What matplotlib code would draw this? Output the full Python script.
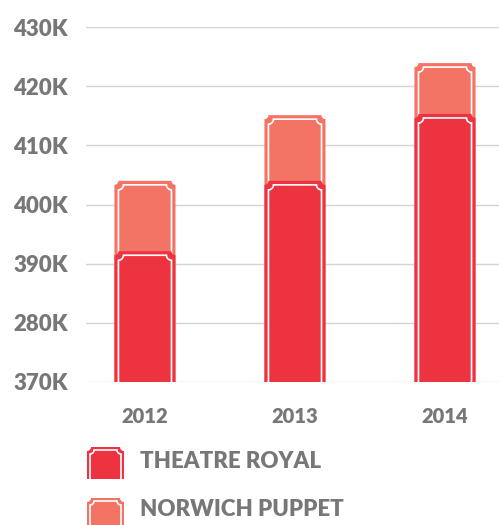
import numpy as np
import matplotlib
matplotlib.use('Agg')
import matplotlib.pyplot as plt
from matplotlib.path import Path
from matplotlib.patches import PathPatch

years = ['2012', '2013', '2014']
theatre_royal = [392.1, 404.0, 415.3]
norwich_puppet = [11.9, 11.1, 8.6]
ytick_vals = [370, 380, 390, 400, 410, 420, 430]
ytick_labels = ['370K', '280K', '390K', '400K', '410K', '420K', '430K']
legend_labels = ['THEATRE ROYAL', 'NORWICH PUPPET']

DARK = '#EE3340'
LIGHT = '#F37365'
GREY = '#777777'
plt.rcParams['font.family'] = ['Lato', 'DejaVu Sans']
W = 'heavy'


def ticket(ax, x0, x1, y0, y1, color, sx, sy, r=4, inset=4, ri=5, z=2):
    # sx, sy: data units per pixel
    t = np.linspace(0, np.pi / 2, 12)
    rx, ry = r * sx, r * sy
    verts = [(x0, y0), (x0, y1 - ry)]
    verts += list(zip(x0 + rx * np.sin(t), y1 - ry * np.cos(t)))
    verts += list(zip(x1 - rx * np.cos(t), y1 - ry * np.sin(t)))
    verts += [(x1, y0), (x0, y0)]
    ax.add_patch(PathPatch(Path(verts, closed=True), fc=color, ec='none', zorder=z))
    # inner white outline
    ix0, ix1, iy1 = x0 + inset * sx, x1 - inset * sx, y1 - inset * sy
    rx, ry = ri * sx, ri * sy
    iv = [(ix0, y0), (ix0, iy1 - ry)]
    iv += list(zip(ix0 + rx * np.sin(t), iy1 - ry * np.cos(t)))
    iv += list(zip(ix1 - rx * np.cos(t), iy1 - ry * np.sin(t)))
    iv += [(ix1, y0)]
    ax.add_patch(PathPatch(Path(iv), fc='none', ec='white', lw=1.2, zorder=z + 0.1))


fig = plt.figure(figsize=(4.99, 5.25), dpi=100)
ax = fig.add_axes([86 / 499, 143 / 525, 413 / 499, 355 / 525])
ax.set_xlim(-0.393, 2.36)
ax.set_ylim(370, 430)
sx = (2.36 + 0.393) / 413
sy = 60 / 355

width = 0.407
x = np.arange(len(years))
totals = np.array(theatre_royal) + np.array(norwich_puppet)
for i in x:
    ticket(ax, i - width / 2, i + width / 2, 370, totals[i], LIGHT, sx, sy, z=2)
    ticket(ax, i - width / 2, i + width / 2, 370, theatre_royal[i], DARK, sx, sy, z=3)

ax.set_yticks(ytick_vals)
ax.set_yticklabels(ytick_labels, fontsize=16, color=GREY, fontweight=W)
ax.set_xticks(x)
ax.set_xticklabels(years, fontsize=14.5, color=GREY, fontweight=W)
ax.tick_params(axis='both', length=0)
ax.tick_params(axis='y', pad=13)
ax.tick_params(axis='x', pad=18)
ax.grid(axis='y', color='#d4d4d4', lw=1)
ax.set_axisbelow(True)
for s in ax.spines.values():
    s.set_visible(False)

# legend
lax = fig.add_axes([0, 0, 1, 1])
lax.set_xlim(0, 499)
lax.set_ylim(0, 525)
lax.axis('off')
ticket(lax, 87, 124, 46, 78, DARK, 1, 1, r=4, inset=3, ri=4)
ticket(lax, 87, 124, -6, 27, LIGHT, 1, 1, r=4, inset=3, ri=4)
lax.text(140, 63, legend_labels[0], fontsize=16, color=GREY, fontweight=W, va='center')
lax.text(140, 15, legend_labels[1], fontsize=16, color=GREY, fontweight=W, va='center')

fig.savefig('out.png', dpi=100)
